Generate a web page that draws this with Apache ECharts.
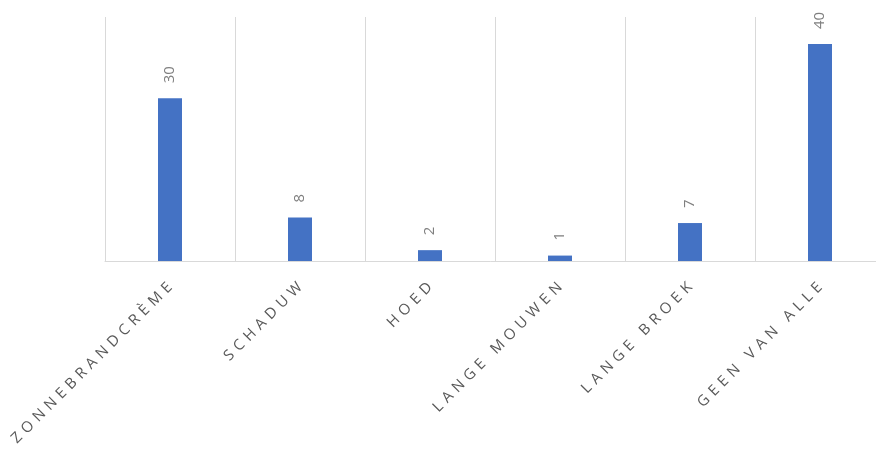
<!DOCTYPE html>
<html>
<head>
<meta charset="utf-8">
<script src="https://cdn.jsdelivr.net/npm/echarts@6/dist/echarts.min.js"></script>
<style>
html,body{margin:0;padding:0;background:#fff;}
#main{width:876px;height:449px;}
</style>
</head>
<body>
<div id="main"></div>
<script>
var categories = ['Zonnebrandcrème', 'Schaduw', 'Hoed', 'Lange mouwen', 'Lange broek', 'Geen van alle'];
var values = [30, 8, 2, 1, 7, 40];

// spread the letters out a bit, like the original labels
function spaced(s){
	return s.toUpperCase().split('').join('\u2004');
}

var myChart = echarts.init(document.getElementById('main'));
var option = {
	animation: false,
	grid: {
		left: 105,
		top: 17,
		right: -9,
		bottom: 188,
		outerBoundsMode: 'none'
	},
	xAxis: {
		type: 'category',
		data: categories,
		axisLine: { lineStyle: { color: '#d9d9d9' } },
		axisTick: { show: false },
		splitLine: {
			show: true,
			lineStyle: { color: '#d9d9d9' }
		},
		axisLabel: {
			interval: 0,
			rotate: 45,
			margin: 24,
			color: '#595959',
			fontSize: 15,
			fontFamily: 'Open Sans',
			formatter: spaced
		}
	},
	yAxis: {
		type: 'value',
		min: 0,
		max: 45,
		show: false,
		splitLine: { show: false }
	},
	series: [{
		type: 'bar',
		data: values,
		barWidth: 24,
		itemStyle: { color: '#4472c4' },
		label: {
			show: true,
			position: 'top',
			distance: 15,
			rotate: 90,
			align: 'left',
			verticalAlign: 'middle',
			color: '#7f7f7f',
			fontSize: 15,
			fontFamily: 'Open Sans'
		}
	}]
};
myChart.setOption(option);
</script>
</body>
</html>
